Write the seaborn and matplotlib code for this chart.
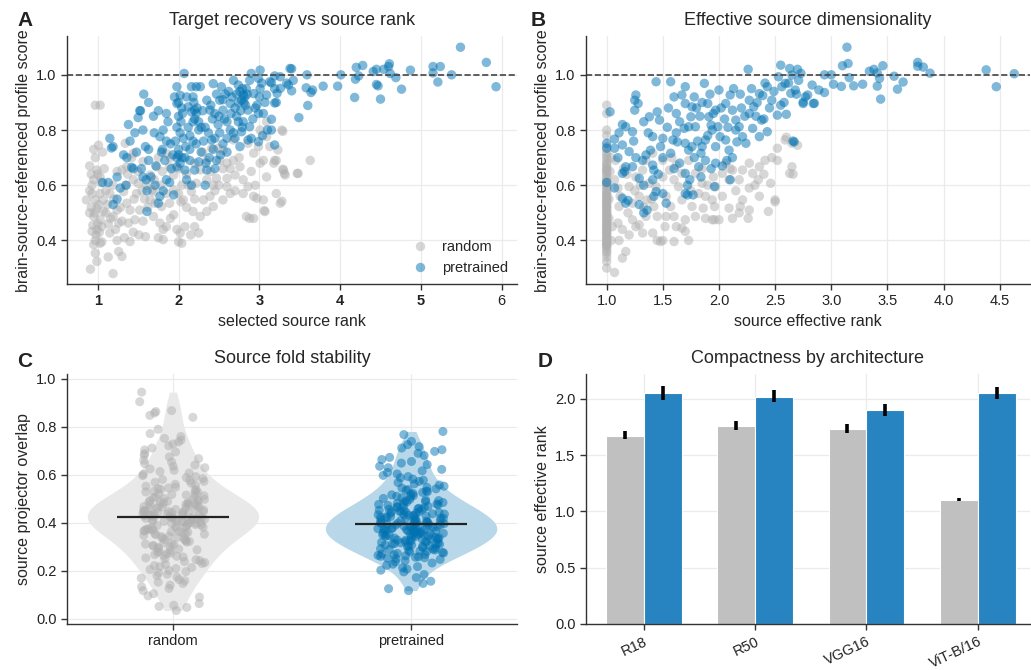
import numpy as np
import pandas as pd
import matplotlib
matplotlib.use("Agg")
import matplotlib.pyplot as plt
import seaborn as sns

GREY = "#b0b0b0"
BLUE = "#0072B2"
ORDER = ["random", "pretrained"]

# ---- panel A: (selected source rank, profile score) ----
a_random = [
    (0.97, 0.89), (1.03, 0.89), (0.95, 0.73), (1.01, 0.745), (0.90, 0.67), (0.99, 0.655), (0.93, 0.60),
    (1.03, 0.63), (0.90, 0.58), (0.86, 0.547), (0.97, 0.547), (1.03, 0.57), (0.90, 0.50), (0.95, 0.487),
    (0.99, 0.517), (1.03, 0.475), (0.93, 0.433), (0.99, 0.44), (0.97, 0.40), (1.03, 0.39), (1.05, 0.395),
    (0.95, 0.385), (0.97, 0.354), (0.99, 0.324), (0.91, 0.296), (1.07, 0.547), (1.07, 0.505), (1.13, 0.46),
    (1.15, 0.427), (1.13, 0.34), (1.19, 0.28), (1.26, 0.36), (1.30, 0.342), (1.24, 0.40), (1.26, 0.463),
    (1.19, 0.487), (1.24, 0.51), (1.15, 0.57), (1.19, 0.60), (1.24, 0.65), (1.30, 0.656), (1.36, 0.535),
    (1.38, 0.463), (1.40, 0.51), (1.32, 0.577), (1.44, 0.43), (1.40, 0.396), (1.48, 0.57), (1.52, 0.51),
    (1.56, 0.47), (1.59, 0.414), (1.51, 0.42), (1.44, 0.62), (1.50, 0.607), (1.36, 0.667), (1.42, 0.70),
    (1.34, 0.752), (1.44, 0.716), (1.56, 0.686), (1.65, 0.637), (1.67, 0.583), (1.71, 0.535), (1.69, 0.487),
    (1.77, 0.463), (1.81, 0.44), (1.81, 0.403), (1.73, 0.667), (1.75, 0.70), (1.85, 0.716), (1.89, 0.667),
    (1.94, 0.637), (1.89, 0.535), (1.94, 0.493), (1.98, 0.44), (2.02, 0.427), (2.04, 0.39), (2.00, 0.395),
    (2.00, 0.57), (2.06, 0.547), (2.04, 0.60), (2.10, 0.52), (2.18, 0.505), (2.25, 0.427), (2.20, 0.45),
    (2.16, 0.577), (2.22, 0.607), (2.27, 0.656), (2.31, 0.547), (2.35, 0.505), (2.39, 0.56), (2.43, 0.60),
    (2.47, 0.625), (2.51, 0.69), (2.55, 0.727), (2.60, 0.625), (2.64, 0.66), (2.60, 0.595), (2.68, 0.69),
    (2.70, 0.637), (2.76, 0.667), (2.80, 0.57), (2.86, 0.595), (2.93, 0.56), (2.84, 0.487), (2.88, 0.48),
    (3.01, 0.68), (2.97, 0.553), (3.07, 0.505), (3.05, 0.547), (3.09, 0.63), (3.05, 0.69), (2.99, 0.74),
    (3.09, 0.776), (3.09, 0.83), (3.01, 0.80), (3.13, 0.74), (3.19, 0.69), (3.28, 0.80), (3.30, 0.655),
    (3.32, 0.637), (3.47, 0.643), (2.41, 0.734), (2.49, 0.734), (2.35, 0.69), (2.68, 0.764), (2.64, 0.57),
    (2.55, 0.547), (2.43, 0.523), (2.27, 0.487), (2.08, 0.45), (1.94, 0.583), (1.85, 0.57), (1.79, 0.523),
    (1.65, 0.547), (1.69, 0.577), (1.58, 0.55), (1.46, 0.475), (2.86, 0.752), (2.93, 0.716), (3.21, 0.57),
    (3.26, 0.535), (2.93, 0.48), (2.03, 0.54), (3.28, 0.542), (3.06, 0.508), (3.29, 0.795), (3.23, 0.728),
    (3.21, 0.69), (3.18, 0.68), (3.63, 0.69), (3.29, 0.658), (3.31, 0.643), (3.48, 0.643),
    (0.95, 0.62), (1.00, 0.64), (0.92, 0.52), (1.00, 0.46), (1.02, 0.43), (0.94, 0.455), (1.10, 0.50),
    (1.10, 0.58), (1.20, 0.55), (1.28, 0.52), (1.30, 0.47), (1.35, 0.60), (1.45, 0.55), (1.50, 0.65),
    (1.60, 0.60), (1.70, 0.62), (1.80, 0.65), (1.90, 0.70), (2.00, 0.66), (2.10, 0.64), (2.20, 0.68),
    (2.30, 0.72), (2.40, 0.65), (2.50, 0.60), (2.60, 0.68), (2.70, 0.58), (2.80, 0.62), (2.90, 0.65),
    (2.20, 0.55), (2.45, 0.58), (1.90, 0.48), (1.75, 0.41),
    (0.96, 0.50), (1.01, 0.53), (0.93, 0.57), (1.04, 0.61), (0.98, 0.42), (1.05, 0.45), (0.92, 0.64),
    (1.08, 0.66), (0.97, 0.70), (1.06, 0.72), (1.12, 0.53), (1.16, 0.48), (1.22, 0.44), (1.33, 0.41),
    (1.37, 0.64), (1.55, 0.58), (1.62, 0.52), (1.78, 0.60), (2.12, 0.60), (2.35, 0.62), (2.55, 0.66),
    (2.75, 0.70), (2.95, 0.60), (1.85, 0.45), (2.15, 0.42),
]
a_pretrained = [
    (5.49, 1.10), (5.81, 1.045), (5.93, 0.957), (5.38, 1.00), (5.15, 1.03), (5.24, 1.03), (5.15, 1.007),
    (5.21, 0.974), (4.87, 1.017), (4.76, 0.948), (4.69, 0.99), (4.61, 1.04), (4.60, 1.03), (4.54, 1.02),
    (4.62, 1.005), (4.50, 0.912), (4.45, 0.965), (4.47, 0.96), (4.41, 1.012), (4.45, 1.02), (4.28, 1.034),
    (4.20, 1.027), (4.23, 0.996), (4.19, 0.984), (4.18, 0.918), (4.01, 1.00), (3.97, 0.959), (3.79, 0.959),
    (3.66, 0.945), (3.64, 0.936), (3.59, 1.00), (3.58, 0.953), (3.60, 0.889), (3.49, 0.845), (3.40, 0.942),
    (3.42, 0.98), (3.40, 1.022), (3.36, 0.963), (3.26, 0.951), (3.22, 0.933), (3.19, 0.898), (3.21, 0.90),
    (3.15, 0.839), (3.15, 0.80), (3.19, 0.746), (3.26, 0.993), (3.19, 0.996), (3.15, 0.971),
    (1.06, 0.61), (1.13, 0.61), (1.15, 0.77), (1.19, 0.74), (1.17, 0.735), (1.24, 0.55), (1.19, 0.53),
    (1.24, 0.63), (1.28, 0.59), (1.32, 0.71), (1.36, 0.70), (1.38, 0.82), (1.40, 0.76), (1.46, 0.79),
    (1.52, 0.87), (1.57, 0.93), (1.63, 0.90), (1.44, 0.66), (1.42, 0.665), (1.35, 0.60), (1.56, 0.63),
    (1.61, 0.58), (1.61, 0.505), (1.63, 0.69), (1.54, 0.66), (1.63, 0.73), (1.59, 0.74), (1.50, 0.845),
    (1.53, 0.87), (1.69, 0.85), (1.75, 0.87), (1.81, 0.80), (1.79, 0.72), (1.80, 0.73), (1.77, 0.776),
    (1.85, 0.76), (1.83, 0.69), (1.85, 0.62), (1.81, 0.58), (1.75, 0.535), (1.77, 0.56), (1.85, 0.86),
    (1.87, 0.83), (1.94, 0.565), (1.89, 0.61), (1.98, 0.957), (2.02, 0.926), (1.98, 0.896), (2.04, 0.88),
    (2.00, 0.85), (1.98, 0.81), (2.02, 0.79), (1.96, 0.76), (2.00, 0.73), (1.98, 0.70), (2.02, 0.68),
    (1.98, 0.667), (2.04, 0.70), (2.07, 1.005), (2.08, 0.655), (2.00, 0.71), (2.16, 0.957), (2.22, 0.957),
    (2.18, 0.92), (2.12, 0.884), (2.16, 0.866), (2.20, 0.872), (2.18, 0.83), (2.12, 0.81), (2.25, 0.80),
    (2.18, 0.76), (2.14, 0.73), (2.22, 0.75), (2.14, 0.69), (2.20, 0.655), (2.10, 0.62), (2.16, 0.60),
    (2.08, 0.70), (2.25, 0.685), (2.27, 0.957), (2.35, 0.908), (2.39, 0.872), (2.43, 0.968), (2.33, 0.81),
    (2.37, 0.79), (2.41, 0.764), (2.45, 0.86), (2.51, 0.908), (2.53, 0.957), (2.43, 0.73), (2.35, 0.655),
    (2.47, 0.69), (2.51, 0.79), (2.60, 0.77), (2.55, 0.872), (2.64, 0.896), (2.58, 0.93), (2.49, 0.82),
    (2.45, 0.66), (2.33, 0.60), (2.60, 0.83), (2.68, 0.98), (2.76, 0.94), (2.80, 0.927), (2.78, 0.908),
    (2.74, 0.90), (2.84, 0.95), (2.88, 0.98), (2.93, 0.932), (2.99, 0.987), (3.01, 1.017), (2.97, 0.89),
    (2.86, 0.872), (2.72, 0.85), (2.74, 0.83), (2.78, 0.794), (2.88, 0.812), (2.86, 0.764), (2.76, 0.74),
    (2.99, 0.86), (2.99, 0.758), (2.68, 0.79), (2.70, 0.77), (2.80, 0.83), (2.90, 1.005), (2.74, 0.963),
    (3.09, 0.927), (3.13, 0.975), (3.19, 0.95), (3.34, 0.97), (3.38, 1.023), (3.01, 0.95), (3.00, 0.92),
    (2.95, 0.88), (3.05, 0.86), (3.10, 0.80), (3.04, 0.78), (2.90, 0.77), (2.65, 0.86), (2.70, 0.88),
    (2.55, 0.91), (2.50, 0.85), (2.30, 0.87), (2.25, 0.83), (2.05, 0.86), (2.10, 0.92), (1.95, 0.92),
    (2.00, 0.90), (2.82, 0.92), (2.79, 0.95), (2.83, 0.89), (2.20, 0.84), (2.22, 0.86), (2.42, 0.84),
    (2.45, 0.77), (2.60, 0.72), (2.64, 0.80), (1.72, 0.67), (1.60, 0.62), (1.90, 0.75), (2.28, 0.72),
    (2.38, 0.70), (2.55, 0.75),
    (2.03, 0.83), (2.06, 0.77), (2.14, 0.78), (2.19, 0.90), (2.23, 0.88), (2.28, 0.81), (2.31, 0.76),
    (2.40, 0.89), (2.47, 0.93), (2.57, 0.84), (2.62, 0.94), (2.66, 0.92), (2.72, 0.93), (2.77, 0.87),
    (2.81, 0.90), (2.85, 0.93), (2.79, 0.81), (2.92, 0.84), (1.93, 0.71), (1.70, 0.79), (1.66, 0.63),
    (1.48, 0.72), (1.56, 0.80), (1.91, 0.66), (2.09, 0.74), (1.71, 0.60), (2.34, 0.68), (2.52, 0.71),
    (3.07, 0.90), (3.03, 0.97),
]

# ---- panel B: (source effective rank, profile score) ----
b_random_col = [0.89, 0.86, 0.80, 0.78, 0.74, 0.72, 0.71, 0.70, 0.69, 0.68, 0.675, 0.667, 0.66, 0.655,
                0.65, 0.643, 0.635, 0.625, 0.62, 0.61, 0.607, 0.60, 0.595, 0.59, 0.58, 0.575, 0.57,
                0.565, 0.56, 0.553, 0.55, 0.545, 0.54, 0.535, 0.53, 0.525, 0.52, 0.517, 0.51, 0.505,
                0.50, 0.495, 0.49, 0.485, 0.48, 0.475, 0.47, 0.463, 0.46, 0.455, 0.45, 0.445, 0.44,
                0.435, 0.43, 0.427, 0.42, 0.414, 0.41, 0.405, 0.40, 0.395, 0.39, 0.385, 0.38, 0.378,
                0.37, 0.36, 0.354, 0.34, 0.324, 0.30]
b_random = [(1.0, v) for v in b_random_col] + [
    (1.04, 0.70), (1.07, 0.62), (1.11, 0.523), (1.10, 0.463), (1.14, 0.44), (1.17, 0.36), (1.14, 0.336),
    (1.07, 0.284), (1.11, 0.40), (1.20, 0.42), (1.23, 0.475), (1.19, 0.50), (1.26, 0.45), (1.29, 0.457),
    (1.32, 0.427), (1.35, 0.487), (1.41, 0.427), (1.48, 0.396), (1.50, 0.40), (1.45, 0.487), (1.42, 0.523),
    (1.36, 0.547), (1.29, 0.56), (1.23, 0.535), (1.20, 0.595), (1.26, 0.63), (1.32, 0.655), (1.38, 0.607),
    (1.44, 0.595), (1.50, 0.63), (1.56, 0.655), (1.53, 0.56), (1.57, 0.523), (1.60, 0.487), (1.62, 0.45),
    (1.60, 0.396), (1.70, 0.433), (1.70, 0.475), (1.67, 0.547), (1.64, 0.595), (1.67, 0.643), (1.62, 0.673),
    (1.73, 0.69), (1.79, 0.643), (1.85, 0.607), (1.82, 0.57), (1.88, 0.56), (1.94, 0.547), (1.97, 0.595),
    (2.03, 0.643), (2.06, 0.68), (2.12, 0.655), (2.09, 0.62), (2.18, 0.62), (2.21, 0.655), (2.27, 0.68),
    (2.30, 0.643), (2.36, 0.667), (2.41, 0.69), (2.47, 0.70), (2.52, 0.69), (2.52, 0.734), (2.59, 0.764),
    (2.65, 0.752), (2.65, 0.667), (2.63, 0.643), (2.46, 0.607), (2.36, 0.56), (2.27, 0.59), (2.21, 0.547),
    (2.19, 0.523), (2.27, 0.51), (2.18, 0.50), (2.12, 0.48), (2.09, 0.517), (2.03, 0.56), (1.96, 0.475),
    (1.88, 0.48), (1.86, 0.517), (2.44, 0.505), (2.50, 0.547), (1.96, 0.523), (1.79, 0.487), (1.67, 0.445),
    (1.73, 0.40), (1.52, 0.45), (1.45, 0.40), (1.76, 0.523), (1.50, 0.69), (1.41, 0.716), (1.35, 0.69),
    (1.53, 0.487), (1.10, 0.59), (2.60, 0.774), (2.70, 0.745), (2.66, 0.64), (2.50, 0.54), (2.26, 0.48),
    (2.00, 0.475), (1.94, 0.475), (1.15, 0.66), (1.30, 0.60), (1.85, 0.66), (2.15, 0.58), (2.35, 0.62),
    (1.60, 0.62), (1.95, 0.63), (2.40, 0.64), (1.05, 0.45), (1.12, 0.56), (1.40, 0.55), (1.75, 0.58),
    (1.02, 0.55), (1.03, 0.65), (1.02, 0.48), (1.04, 0.40), (1.08, 0.69), (1.18, 0.64), (1.25, 0.58),
    (1.33, 0.52), (1.58, 0.70), (1.90, 0.60), (2.10, 0.66), (2.32, 0.60),
]
b_pretrained = [
    (1.00, 0.734), (1.00, 0.752), (1.00, 0.61), (1.03, 0.866), (1.07, 0.734), (1.07, 0.767), (1.11, 0.79),
    (1.14, 0.82), (1.14, 0.746), (1.17, 0.812), (1.23, 0.794), (1.25, 0.872), (1.26, 0.927), (1.28, 0.896),
    (1.25, 0.908), (1.20, 0.722), (1.26, 0.70), (1.23, 0.667), (1.17, 0.667), (1.14, 0.643), (1.16, 0.65),
    (1.07, 0.59), (1.14, 0.553), (1.17, 0.535), (1.19, 0.545), (1.29, 0.53), (1.33, 0.50), (1.36, 0.51),
    (1.29, 0.625), (1.33, 0.60), (1.32, 0.69), (1.35, 0.71), (1.39, 0.727), (1.41, 0.776), (1.37, 0.79),
    (1.33, 0.83), (1.38, 0.848), (1.44, 0.975), (1.45, 0.866), (1.47, 0.836), (1.50, 0.77), (1.50, 0.70),
    (1.42, 0.655), (1.41, 0.62), (1.44, 0.577), (1.42, 0.56), (1.53, 0.535), (1.50, 0.57), (1.54, 0.81),
    (1.57, 0.975), (1.60, 0.92), (1.62, 0.86), (1.59, 0.764), (1.63, 0.757), (1.67, 0.927), (1.70, 0.957),
    (1.70, 0.896), (1.69, 0.806), (1.73, 0.812), (1.76, 0.884), (1.75, 0.848), (1.79, 0.812), (1.70, 0.752),
    (1.73, 0.727), (1.76, 0.74), (1.78, 0.70), (1.70, 0.643), (1.72, 0.60), (1.74, 0.62), (1.70, 0.57),
    (1.72, 0.565), (1.77, 0.565), (1.82, 0.667), (1.84, 0.716), (1.85, 0.74), (1.88, 0.764), (1.87, 0.969),
    (1.90, 0.896), (1.91, 0.848), (1.93, 0.818), (1.94, 0.80), (1.96, 0.595), (1.93, 0.66), (1.97, 0.872),
    (1.99, 0.812), (2.00, 0.945), (2.01, 0.776), (2.06, 0.764), (2.07, 0.69), (2.09, 0.727), (2.06, 0.896),
    (2.10, 0.927), (2.12, 0.872), (2.15, 0.836), (2.18, 0.812), (2.21, 0.776), (2.24, 0.752), (2.27, 0.908),
    (2.27, 0.86), (2.31, 0.884), (2.30, 0.806), (2.36, 0.776), (2.38, 0.836), (2.43, 0.794), (2.36, 0.932),
    (2.39, 0.925), (2.43, 0.957), (2.47, 0.908), (2.52, 0.854), (2.53, 0.993), (2.56, 0.957), (2.59, 0.969),
    (2.64, 0.933), (2.68, 0.945), (2.71, 0.98), (2.77, 0.92), (2.83, 0.963), (2.89, 0.945), (2.75, 0.896),
    (2.84, 0.896), (2.65, 0.999), (2.55, 1.035), (2.10, 0.62), (2.16, 0.757), (2.67, 0.757), (2.03, 0.67),
    (1.88, 0.69), (1.65, 0.68), (1.57, 0.716), (1.41, 0.673), (1.84, 0.63), (1.97, 0.68),
    (3.14, 1.10), (3.10, 1.033), (3.15, 1.041), (3.34, 1.013), (3.38, 1.02), (3.41, 1.007), (3.46, 1.033),
    (3.43, 0.987), (3.41, 0.959), (3.44, 0.912), (3.56, 0.995), (3.59, 0.948), (3.64, 0.974), (3.77, 1.045),
    (3.77, 1.031), (3.82, 1.028), (3.88, 1.006), (4.38, 1.018), (4.47, 0.957), (4.63, 1.004), (3.28, 0.966),
    (3.20, 0.96), (3.09, 0.958), (3.02, 0.966), (2.94, 0.936), (2.94, 1.00), (3.00, 1.00), (3.16, 0.99),
    (2.85, 0.897), (2.75, 0.901), (2.79, 0.927), (2.66, 0.76), (2.60, 0.857), (2.73, 1.005), (2.70, 1.02),
    (2.63, 1.023), (2.26, 1.02), (1.80, 0.88), (1.85, 0.90), (1.95, 0.86), (2.05, 0.84), (2.20, 0.88),
    (2.33, 0.85), (2.45, 0.88), (2.58, 0.90), (1.65, 0.83), (1.90, 0.78), (2.15, 0.80), (2.40, 0.84),
    (1.78, 0.92), (1.83, 0.85), (1.92, 0.93), (2.02, 0.88), (2.08, 0.81), (2.13, 0.95), (2.19, 0.93),
    (2.23, 0.85), (2.29, 0.95), (2.34, 0.90), (2.41, 0.97), (2.49, 0.94), (2.55, 0.89), (2.62, 0.97),
    (2.69, 0.93), (1.62, 0.79), (1.55, 0.88), (1.48, 0.74), (1.81, 0.76), (1.97, 0.74), (2.12, 0.70),
    (1.46, 0.64), (1.60, 0.66), (1.24, 0.76), (1.10, 0.70),
]

# ---- panel C: source projector overlap ----
c_random = [
    0.035, 0.048, 0.052, 0.057, 0.064, 0.091, 0.096, 0.105, 0.118, 0.127, 0.134, 0.141, 0.148,
    0.153, 0.159, 0.164, 0.170, 0.175, 0.181, 0.186, 0.192, 0.197,
    0.202, 0.206, 0.210, 0.214, 0.218, 0.222, 0.227, 0.231, 0.235, 0.239, 0.243, 0.247,
    0.251, 0.254, 0.258, 0.261, 0.264, 0.268, 0.271, 0.274, 0.277, 0.281, 0.284, 0.288, 0.291, 0.294,
    0.298, 0.301, 0.304, 0.306, 0.309, 0.312, 0.315, 0.317, 0.320, 0.323, 0.326, 0.329, 0.331, 0.334,
    0.337, 0.340, 0.343, 0.345, 0.348, 0.351, 0.353, 0.355, 0.357, 0.359, 0.361, 0.363, 0.364, 0.366,
    0.368, 0.370, 0.372, 0.374, 0.376, 0.378, 0.380, 0.382, 0.384, 0.386, 0.387, 0.389, 0.391, 0.393,
    0.395, 0.397, 0.399, 0.401, 0.402, 0.403, 0.405, 0.406, 0.408, 0.409, 0.410, 0.412, 0.413, 0.415,
    0.416, 0.417, 0.419, 0.420, 0.422, 0.423, 0.424, 0.426, 0.427, 0.429, 0.430, 0.431, 0.433, 0.434,
    0.436, 0.437, 0.438, 0.440, 0.441, 0.443, 0.444, 0.445, 0.447, 0.448, 0.449, 0.451, 0.452, 0.454,
    0.456, 0.458, 0.459, 0.461, 0.463, 0.465, 0.466, 0.468, 0.470, 0.472, 0.473, 0.475, 0.477, 0.479,
    0.480, 0.482, 0.484, 0.486, 0.487, 0.489, 0.491, 0.493, 0.494, 0.496, 0.498, 0.502, 0.505, 0.507,
    0.510, 0.513, 0.516, 0.518, 0.521, 0.524, 0.527, 0.529, 0.532, 0.535, 0.538, 0.540, 0.543, 0.546,
    0.549, 0.553, 0.557, 0.561, 0.565, 0.569, 0.573, 0.577, 0.581, 0.585, 0.589, 0.593, 0.597, 0.603,
    0.608, 0.614, 0.619, 0.625, 0.630, 0.636, 0.641, 0.647, 0.654, 0.661, 0.668, 0.675, 0.682, 0.689,
    0.696, 0.704, 0.712, 0.721, 0.729, 0.737, 0.745, 0.752, 0.760, 0.772, 0.790, 0.840, 0.848, 0.858,
    0.864, 0.868, 0.905, 0.945,
]
c_pretrained = [
    0.118, 0.126, 0.148, 0.157, 0.172, 0.185, 0.196,
    0.203, 0.208, 0.213, 0.218, 0.223, 0.228, 0.233, 0.238, 0.243, 0.248,
    0.251, 0.253, 0.255, 0.257, 0.259, 0.261, 0.263, 0.265, 0.267, 0.269, 0.271, 0.273, 0.275, 0.277,
    0.279, 0.281, 0.283, 0.285, 0.287, 0.289, 0.291, 0.293, 0.295, 0.298, 0.301, 0.302, 0.304, 0.305,
    0.307, 0.308, 0.310, 0.311, 0.313, 0.314, 0.316, 0.317, 0.319, 0.320, 0.322, 0.323, 0.325, 0.326,
    0.328, 0.329, 0.331, 0.332, 0.334, 0.335, 0.337, 0.338, 0.340, 0.341, 0.343, 0.344, 0.346, 0.347,
    0.348, 0.349, 0.351, 0.352, 0.353, 0.354, 0.356, 0.357, 0.358, 0.359, 0.361, 0.362, 0.363, 0.364,
    0.366, 0.367, 0.368, 0.369, 0.371, 0.372, 0.373, 0.374, 0.376, 0.377, 0.378, 0.379, 0.381, 0.382,
    0.383, 0.384, 0.386, 0.387, 0.388, 0.389, 0.391, 0.392, 0.393, 0.394, 0.396, 0.397, 0.398, 0.399,
    0.401, 0.402, 0.404, 0.405, 0.407, 0.408, 0.410, 0.411, 0.413, 0.414, 0.416, 0.417, 0.419, 0.420,
    0.422, 0.423, 0.425, 0.426, 0.428, 0.429, 0.431, 0.432, 0.434, 0.435, 0.437, 0.438, 0.440, 0.441,
    0.443, 0.444, 0.446, 0.447, 0.448, 0.449, 0.451, 0.453, 0.455, 0.457, 0.459, 0.461, 0.463, 0.465,
    0.467, 0.469, 0.471, 0.473, 0.475, 0.477, 0.479, 0.481, 0.483, 0.485, 0.487, 0.489, 0.491, 0.493,
    0.495, 0.498, 0.502, 0.505, 0.508, 0.511, 0.514, 0.517, 0.520, 0.523, 0.527, 0.530, 0.533, 0.536,
    0.539, 0.542, 0.545, 0.548, 0.553, 0.558, 0.563, 0.568, 0.573, 0.578, 0.583, 0.588, 0.593, 0.598,
    0.604, 0.610, 0.617, 0.623, 0.630, 0.636, 0.643, 0.649, 0.656, 0.664, 0.673, 0.681, 0.690, 0.698,
    0.705, 0.712, 0.718, 0.726, 0.740, 0.768, 0.781,
]

# ---- panel D: effective rank by architecture ----
archs = ["R18", "R50", "VGG16", "ViT-B/16"]
d_random = [1.673, 1.762, 1.735, 1.105]
d_random_lo = [1.643, 1.727, 1.694, 1.094]
d_random_hi = [1.718, 1.807, 1.780, 1.123]
d_pretrained = [2.050, 2.021, 1.899, 2.054]
d_pretrained_lo = [1.994, 1.973, 1.848, 2.003]
d_pretrained_hi = [2.116, 2.077, 1.958, 2.107]


def pairs_df(rand, pre, xname):
    df = pd.DataFrame(rand + pre, columns=[xname, "score"])
    df["init"] = ["random"] * len(rand) + ["pretrained"] * len(pre)
    return df


dfA = pairs_df(a_random, a_pretrained, "rank")
dfB = pairs_df(b_random, b_pretrained, "eff")
dfC = pd.DataFrame({"overlap": c_random + c_pretrained,
                    "init": ["random"] * len(c_random) + ["pretrained"] * len(c_pretrained)})
dfD = pd.DataFrame({"arch": archs * 2, "value": d_random + d_pretrained,
                    "init": ["random"] * 4 + ["pretrained"] * 4})

sns.set_theme(style="ticks")
plt.rcParams["font.family"] = ["Liberation Sans", "DejaVu Sans"]
plt.rcParams["axes.edgecolor"] = "#333333"
plt.rcParams["xtick.color"] = "#333333"
plt.rcParams["ytick.color"] = "#333333"
plt.rcParams["xtick.labelcolor"] = "#222222"
plt.rcParams["ytick.labelcolor"] = "#222222"

fig = plt.figure(figsize=(10.31, 6.70), dpi=100)
axA = fig.add_axes([0.065, 0.576, 0.4365, 0.370])
axB = fig.add_axes([0.5684, 0.576, 0.4306, 0.370])
axC = fig.add_axes([0.065, 0.0687, 0.4365, 0.3733])
axD = fig.add_axes([0.5684, 0.0687, 0.4306, 0.3733])


def style(ax, title, xlabel, ylabel):
    ax.set_title(title, fontsize=13, pad=8)
    ax.set_xlabel(xlabel, fontsize=11.5)
    ax.set_ylabel(ylabel, fontsize=11.5)
    ax.grid(True, color="#ebebeb", linewidth=0.9, zorder=0)
    ax.set_axisbelow(True)
    sns.despine(ax=ax)
    ax.tick_params(labelsize=10.5, length=4, width=1)
    for s in ax.spines.values():
        s.set_linewidth(1.0)


pal = {"random": GREY, "pretrained": BLUE}
ylab = "brain-source-referenced profile score"

# A
sns.scatterplot(data=dfA, x="rank", y="score", hue="init", hue_order=ORDER, palette=pal,
                s=46, alpha=0.5, linewidth=0, ax=axA)
axA.axhline(1.0, color="#444444", linestyle="--", linewidth=1.2, zorder=1)
axA.set_xlim(0.62, 6.19)
axA.set_ylim(0.242, 1.14)
axA.set_xticks([1, 2, 3, 4, 5, 6], labels=["1", "2", "3", "4", "5", "6"])
axA.set_yticks([0.4, 0.6, 0.8, 1.0])
for lbl in axA.get_xticklabels()[:5]:
    lbl.set_fontweight("bold")
style(axA, "Target recovery vs source rank", "selected source rank", ylab)
axA.legend(loc="lower right", frameon=False, fontsize=10.5, handletextpad=0.5,
           borderaxespad=0.2, labelspacing=0.5)

# B
sns.scatterplot(data=dfB, x="eff", y="score", hue="init", hue_order=ORDER, palette=pal,
                s=46, alpha=0.5, linewidth=0, legend=False, ax=axB)
axB.axhline(1.0, color="#444444", linestyle="--", linewidth=1.2, zorder=1)
axB.set_xlim(0.816, 4.77)
axB.set_ylim(0.242, 1.14)
axB.set_xticks([1.0, 1.5, 2.0, 2.5, 3.0, 3.5, 4.0, 4.5])
axB.set_yticks([0.4, 0.6, 0.8, 1.0])
style(axB, "Effective source dimensionality", "source effective rank", ylab)

# C
sns.violinplot(data=dfC, x="init", y="overlap", hue="init", order=ORDER, hue_order=ORDER,
               palette={"random": "#e9e9e9", "pretrained": "#b8d8e9"}, saturation=1,
               inner=None, cut=0, linewidth=0, width=0.72, density_norm="width",
               legend=False, ax=axC)
np.random.seed(3)
sns.stripplot(data=dfC, x="init", y="overlap", hue="init", order=ORDER, hue_order=ORDER,
              palette=pal, jitter=0.14, size=6.5, alpha=0.5, linewidth=0, legend=False, ax=axC)
for i, g in enumerate(ORDER):
    med = np.median(dfC.loc[dfC["init"] == g, "overlap"])
    axC.hlines(med, i - 0.235, i + 0.235, color="#222222", linewidth=1.6, zorder=5)
axC.set_xlim(-0.445, 1.445)
axC.set_ylim(-0.021, 1.021)
axC.set_yticks([0.0, 0.2, 0.4, 0.6, 0.8, 1.0])
style(axC, "Source fold stability", "", "source projector overlap")

# D
sns.barplot(data=dfD, x="arch", y="value", hue="init", order=archs, hue_order=ORDER,
            palette={"random": "#c0c0c0", "pretrained": "#2784c0"}, saturation=1,
            width=0.68, errorbar=None, edgecolor="white", linewidth=0.8, legend=False, ax=axD)
for cont, lo, hi, val in [(axD.containers[0], d_random_lo, d_random_hi, d_random),
                          (axD.containers[1], d_pretrained_lo, d_pretrained_hi, d_pretrained)]:
    xs = [b.get_x() + b.get_width() / 2 for b in cont]
    yerr = [np.array(val) - np.array(lo), np.array(hi) - np.array(val)]
    axD.errorbar(xs, val, yerr=yerr, fmt="none", ecolor="black", elinewidth=2.6, capsize=0, zorder=5)
axD.set_xlim(-0.52, 3.47)
axD.set_ylim(0, 2.223)
axD.set_yticks([0.0, 0.5, 1.0, 1.5, 2.0])
style(axD, "Compactness by architecture", "", "source effective rank")
plt.setp(axD.get_xticklabels(), rotation=25, ha="right", rotation_mode="anchor")

for letter, (x, y) in {"A": (0.024, 0.97), "B": (0.522, 0.97), "C": (0.024, 0.46),
                       "D": (0.529, 0.46)}.items():
    fig.text(x, y, letter, fontsize=15, fontweight="bold", ha="center", va="center", color="#222222")

fig.savefig("out.png", dpi=100)
